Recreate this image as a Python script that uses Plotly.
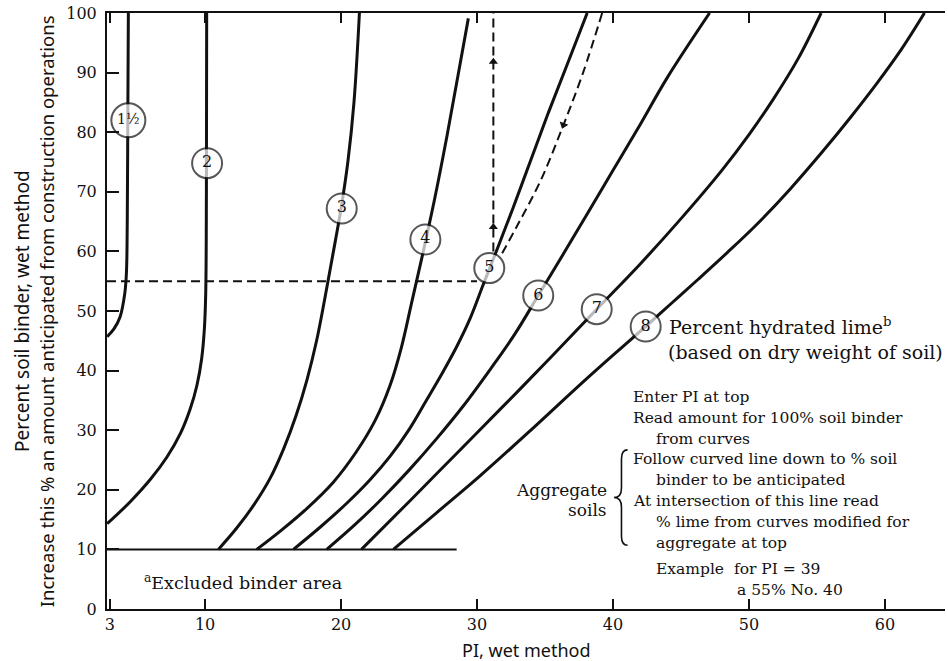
import plotly.graph_objects as go

# Percent soil binder (wet method) against PI (wet method), one curve per lime content
lime_labels = ["1½", "2", "3", "4", "5", "6", "7", "8"]

pi_curves = [
    [2.8, 3.3, 3.75, 4.1, 4.22, 4.28, 4.32, 4.36],
    [2.8, 4.5, 6.0, 7.2, 8.2, 8.9, 9.4, 9.75, 9.95, 10.05, 10.1, 10.12],
    [10.98, 12.3, 13.6, 14.8, 15.8, 16.7, 17.5, 18.2, 18.8, 19.4, 20.0, 20.5, 20.95, 21.35],
    [13.8, 15.6, 17.5, 19.4, 21.1, 22.5, 23.6, 24.45, 25.2, 26.0, 26.9, 27.8, 28.6, 29.36],
    [16.5, 18.5, 20.4, 22.1, 23.6, 25.0, 26.3, 27.45, 28.5, 29.5, 30.45, 31.4, 32.6,
     33.9, 35.2, 36.6, 38.1],
    [18.95, 21.0, 23.0, 25.0, 27.0, 29.0, 31.0, 32.8, 34.5, 36.3, 38.0, 40.0, 42.0,
     44.0, 47.1],
    [21.5, 25.0, 28.5, 32.0, 35.5, 38.8, 42.0, 45.0, 48.0, 50.0, 51.8, 53.6, 55.3],
    [23.85, 27.0, 30.2, 33.9, 37.6, 40.0, 42.4, 44.3, 46.2, 48.4, 50.6, 53.0, 55.5,
     57.5, 59.4, 61.2, 62.9],
]
binder_curves = [
    [45.7, 47.0, 49.0, 53.0, 56.5, 65.0, 82.0, 100.0],
    [14.3, 18.0, 21.8, 25.5, 29.5, 33.5, 37.5, 42.0, 47.0, 53.0, 70.0, 100.0],
    [10.0, 13.5, 17.5, 22.0, 27.0, 32.5, 38.5, 45.0, 52.0, 59.5, 67.2, 75.0, 85.0, 100.0],
    [10.0, 13.2, 16.9, 21.2, 26.3, 31.6, 37.5, 44.0, 51.5, 59.5, 69.0, 79.5, 89.5, 99.1],
    [10.0, 13.8, 17.7, 21.6, 25.6, 30.1, 35.1, 39.6, 44.0, 48.8, 54.4, 59.9, 67.0,
     75.0, 83.0, 91.2, 100.0],
    [10.0, 14.1, 18.5, 23.3, 28.5, 34.1, 40.3, 46.2, 52.6, 59.4, 65.9, 73.6, 81.3,
     89.2, 100.0],
    [10.0, 18.0, 26.1, 34.2, 42.4, 50.3, 57.9, 65.5, 73.6, 79.6, 85.6, 92.3, 100.0],
    [10.0, 16.1, 22.3, 29.9, 37.7, 42.6, 47.4, 51.3, 55.2, 59.8, 64.6, 70.4, 77.0,
     82.6, 88.2, 93.9, 100.0],
]

# Where each lime-content label sits on its curve
label_pi = [4.36, 10.15, 20.05, 26.2, 30.9, 34.5, 38.8, 42.4]
label_binder = [82.0, 74.8, 67.2, 62.0, 57.2, 52.6, 50.3, 47.4]

# Lower limit of the chart (excluded binder area below it)
excluded_binder = 10
excluded_pi_end = 28.5

# Worked example: PI 39 with 55% binder
example_pi_top = [39.2, 37.8, 36.35, 34.7, 33.0, 31.7]
example_binder_path = [100, 90.0, 81.2, 72.0, 64.5, 59.1]
example_binder = 55
example_pi_read = 31.2
example_pi_read_start = 60.0

x_ticks = [3, 10, 20, 30, 40, 50, 60]
y_ticks = list(range(0, 101, 10))

INK = "#111111"
SERIF = "DejaVu Serif"
SANS = "Noto Sans"

fig = go.Figure()

for xs, ys in zip(pi_curves, binder_curves):
    fig.add_trace(go.Scatter(
        x=xs, y=ys, mode="lines",
        line=dict(color=INK, width=3, shape="spline", smoothing=1.0),
        hoverinfo="skip",
    ))

# excluded binder boundary
fig.add_trace(go.Scatter(
    x=[2.79, excluded_pi_end], y=[excluded_binder, excluded_binder], mode="lines",
    line=dict(color=INK, width=2), hoverinfo="skip",
))

# example: dashed construction lines
dash_style = dict(color=INK, width=2, dash="9px,5px")
fig.add_trace(go.Scatter(
    x=[2.79, 30.0], y=[example_binder, example_binder], mode="lines",
    line=dash_style, hoverinfo="skip",
))
fig.add_trace(go.Scatter(
    x=[example_pi_read, example_pi_read], y=[example_pi_read_start, 100], mode="lines",
    line=dash_style, hoverinfo="skip",
))
fig.add_trace(go.Scatter(
    x=example_pi_top, y=example_binder_path, mode="lines",
    line=dict(color=INK, width=2, dash="9px,5px", shape="spline", smoothing=1.0),
    hoverinfo="skip",
))

# arrow heads on the example lines
fig.add_trace(go.Scatter(
    x=[example_pi_read, example_pi_read, 36.35], y=[91.8, 64.1, 81.2], mode="markers",
    marker=dict(symbol=["triangle-up", "triangle-up", "triangle-down"],
                angle=[0, 0, 20], size=8, color=INK),
    hoverinfo="skip",
))

# lime content labels
fig.add_trace(go.Scatter(
    x=label_pi, y=label_binder, mode="markers+text",
    text=lime_labels, textposition="middle center",
    textfont=dict(family=SERIF, size=[14, 16, 16, 16, 16, 16, 16, 16], color=INK),
    marker=dict(symbol="circle", size=[34, 30, 30, 30, 30, 30, 30, 30],
                color="white", line=dict(color=INK, width=2)),
    hoverinfo="skip", cliponaxis=False,
))

ann = []


def note(x, y, text, size=15.5, xanchor="left", **kw):
    ann.append(dict(x=x, y=y, xref="x", yref="y", text=text, showarrow=False,
                    xanchor=xanchor, yanchor="middle",
                    font=dict(family=SERIF, size=size, color=INK), **kw))


note(44.0, 47.5, "Percent hydrated lime<sup>b</sup>", size=19)
note(43.9, 43.2, "(based on dry weight of soil)", size=19)

note(41.3, 35.6, "Enter PI at top")
note(41.3, 32.0, "Read amount for 100% soil binder")
note(43.0, 28.6, "from curves")
note(41.3, 25.1, "Follow curved line down to % soil")
note(43.0, 21.6, "binder to be anticipated")
note(41.3, 18.1, "At intersection of this line read")
note(43.0, 14.6, "% lime from curves modified for")
note(43.0, 11.0, "aggregate at top")
note(43.0, 6.7, "Example  for PI = 39")
note(49.0, 3.2, "a 55% No. 40")

note(39.7, 20.0, "Aggregate", size=17, xanchor="right")
note(39.7, 16.6, "soils", size=17, xanchor="right")

note(5.4, 4.6, "<sup>a</sup>Excluded binder area", size=17.5)

# axis titles
ann.append(dict(x=0.5, y=-0.068, xref="paper", yref="paper", text="PI, wet method",
                showarrow=False, xanchor="center", yanchor="middle",
                font=dict(family=SANS, size=18, color=INK)))
ann.append(dict(x=-0.1015, y=0.5, xref="paper", yref="paper",
                text="Percent soil binder, wet method", textangle=-90,
                showarrow=False, xanchor="center", yanchor="middle",
                font=dict(family=SANS, size=19, color=INK)))
ann.append(dict(x=-0.0725, y=0.5, xref="paper", yref="paper",
                text="Increase this % an amount anticipated from construction operations",
                textangle=-90, showarrow=False, xanchor="center", yanchor="middle",
                font=dict(family=SANS, size=18.5, color=INK)))

# curly brace grouping the aggregate-soil steps
bx = 40.62
brace = (f"M {bx + 0.45},26.7 Q {bx},26.7 {bx},25.2 L {bx},20.3 "
         f"Q {bx},18.7 {bx - 0.55},18.7 Q {bx},18.7 {bx},17.1 L {bx},12.2 "
         f"Q {bx},10.7 {bx + 0.45},10.7")

fig.update_layout(
    width=948, height=661,
    margin=dict(l=107, r=3, t=13, b=52),
    paper_bgcolor="white", plot_bgcolor="white",
    showlegend=False, hovermode=False,
    annotations=ann,
    shapes=[dict(type="path", path=brace, xref="x", yref="y",
                 line=dict(color=INK, width=1.6))],
    xaxis=dict(range=[2.79, 64.41], tickvals=x_ticks, ticks="inside", ticklen=10,
               tickwidth=1.5, tickcolor=INK, showline=True, linewidth=2, linecolor=INK,
               mirror="ticks", showgrid=False, zeroline=False,
               tickfont=dict(family=SERIF, size=16, color=INK)),
    yaxis=dict(range=[0, 100], tickvals=y_ticks, ticks="inside", ticklen=12,
               tickwidth=1.5, tickcolor=INK, showline=True, linewidth=2, linecolor=INK,
               showgrid=False, zeroline=False, ticklabelstandoff=5,
               tickfont=dict(family=SERIF, size=16, color=INK)),
)

fig.write_html("out.html")
